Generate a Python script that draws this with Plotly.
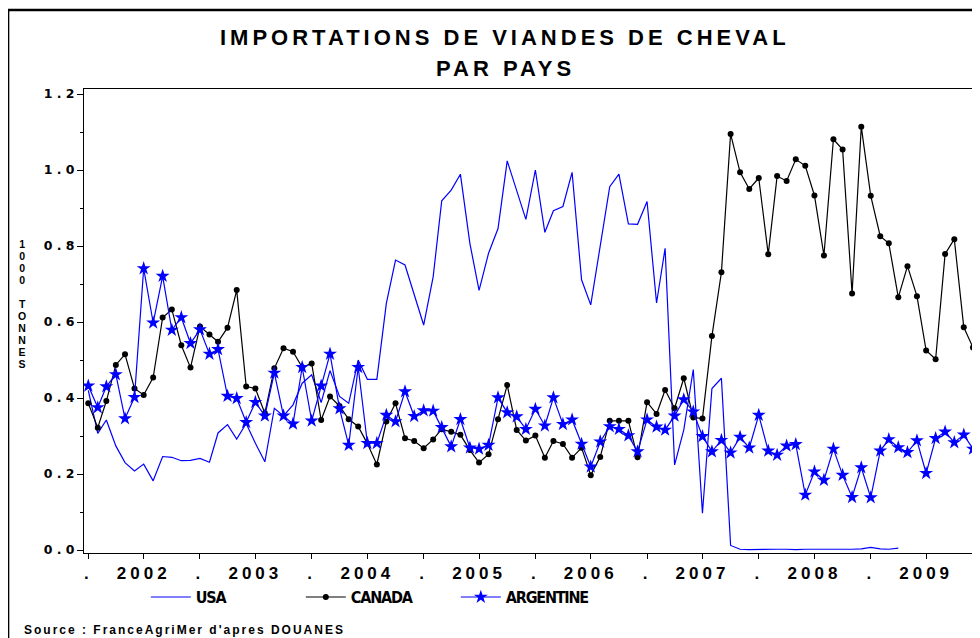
import plotly.graph_objects as go

# ---------------- data (monthly, starting January 2002) ----------------
years = [2002, 2003, 2004, 2005, 2006, 2007, 2008, 2009, 2010]
months = [f"{y}-{m:02d}-01" for y in years for m in range(1, 13)]

usa = [0.420, 0.307, 0.342, 0.274, 0.230, 0.208, 0.226, 0.182, 0.246, 0.244, 0.235, 0.236,
       0.241, 0.231, 0.308, 0.330, 0.292, 0.333, 0.281, 0.232, 0.373, 0.353, 0.382, 0.439,
       0.461, 0.388, 0.472, 0.404, 0.386, 0.500, 0.449, 0.449, 0.649, 0.763, 0.750, 0.672,
       0.592, 0.719, 0.919, 0.947, 0.989, 0.807, 0.683, 0.781, 0.846, 1.024, 0.943, 0.870,
       1.000, 0.836, 0.893, 0.904, 0.994, 0.711, 0.645, 0.798, 0.956, 0.989, 0.858, 0.857,
       0.917, 0.650, 0.794, 0.224, 0.316, 0.475, 0.097, 0.425, 0.452, 0.012, 0.002, 0.001,
       0.002, 0.002, 0.002, 0.002, 0.001, 0.002, 0.002, 0.002, 0.001, 0.002, 0.002, 0.003,
       0.007, 0.003, 0.002, 0.005]

canada = [0.386, 0.322, 0.392, 0.487, 0.515, 0.425, 0.408, 0.454, 0.612, 0.633, 0.539, 0.480,
          0.588, 0.567, 0.548, 0.585, 0.684, 0.430, 0.425, 0.360, 0.478, 0.531, 0.522, 0.481,
          0.491, 0.342, 0.404, 0.379, 0.344, 0.325, 0.280, 0.225, 0.338, 0.386, 0.294, 0.287,
          0.268, 0.291, 0.318, 0.311, 0.303, 0.263, 0.230, 0.252, 0.344, 0.434, 0.316, 0.288,
          0.301, 0.243, 0.287, 0.279, 0.243, 0.269, 0.197, 0.245, 0.340, 0.340, 0.340, 0.244,
          0.389, 0.358, 0.421, 0.373, 0.452, 0.349, 0.346, 0.563, 0.731, 1.095, 0.994, 0.950,
          0.979, 0.778, 0.984, 0.971, 1.028, 1.011, 0.933, 0.775, 1.081, 1.054, 0.675, 1.114,
          0.932, 0.826, 0.807, 0.665, 0.747, 0.668, 0.525, 0.502, 0.779, 0.818, 0.586, 0.533,
          0.600]

argentine = [0.432, 0.375, 0.430, 0.462, 0.346, 0.402, 0.741, 0.598, 0.721, 0.579, 0.612, 0.544,
             0.580, 0.516, 0.528, 0.405, 0.399, 0.336, 0.389, 0.353, 0.466, 0.353, 0.332, 0.481,
             0.340, 0.432, 0.516, 0.372, 0.276, 0.481, 0.281, 0.281, 0.355, 0.338, 0.417, 0.352,
             0.367, 0.366, 0.323, 0.272, 0.344, 0.269, 0.266, 0.276, 0.401, 0.362, 0.351, 0.318,
             0.371, 0.327, 0.401, 0.331, 0.343, 0.279, 0.219, 0.285, 0.325, 0.318, 0.301, 0.259,
             0.343, 0.324, 0.316, 0.353, 0.396, 0.364, 0.299, 0.259, 0.289, 0.256, 0.297, 0.269,
             0.355, 0.261, 0.250, 0.274, 0.278, 0.145, 0.206, 0.184, 0.266, 0.197, 0.139, 0.217,
             0.138, 0.261, 0.291, 0.270, 0.257, 0.288, 0.202, 0.294, 0.311, 0.283, 0.303, 0.266,
             0.245]

series_names = ["USA", "CANADA", "ARGENTINE"]

label_years = [2002, 2003, 2004, 2005, 2006, 2007, 2008, 2009]
x_tickvals = []
x_ticklabels = []
for y in label_years:
    x_tickvals += [f"{y}-01-01", f"{y}-07-01"]
    x_ticklabels += [".", str(y)]
x_gridvals = [f"{y}-01-01" for y in label_years[1:]]

y_tickvals = [0.0, 0.2, 0.4, 0.6, 0.8, 1.0, 1.2]
y_ticklabels = ["0 . 0", "0 . 2", "0 . 4", "0 . 6", "0 . 8", "1 . 0", "1 . 2"]
y_minorvals = [0.1, 0.3, 0.5, 0.7, 0.9, 1.1]
y_gridvals = [0.2, 0.4, 0.6, 0.8, 1.0]

title_lines = ["IMPORTATIONS DE VIANDES DE CHEVAL", "PAR PAYS"]
y_title = "1000 TONNES"
source_text = "Source : FranceAgriMer d'apres DOUANES"


def spaced(text, px):
    return f"<span style='letter-spacing:{px}px'>{text}</span>"


# ---------------- figure ----------------
BLUE = "#0000ff"
ARIAL_B = dict(family="Liberation Sans, Arial", weight="bold", color="black")
DEJAVU_B = dict(family="DejaVu Sans", weight="bold", color="black")
COND_B = dict(family="DejaVu Sans Condensed", weight="bold", color="black")

fig = go.Figure()
fig.add_trace(go.Scatter(x=months[:len(usa)], y=usa, name=spaced(series_names[0], -1.2), mode="lines",
                         line=dict(color=BLUE, width=1.2)))
fig.add_trace(go.Scatter(x=months[:len(canada)], y=canada, name=spaced(series_names[1], -1.2),
                         mode="lines+markers", line=dict(color="black", width=1.2),
                         marker=dict(symbol="circle", size=6, color="black")))
fig.add_trace(go.Scatter(x=months[:len(argentine)], y=argentine, name=spaced(series_names[2], -1.2),
                         mode="lines+markers", line=dict(color=BLUE, width=1.2),
                         marker=dict(symbol="star", size=10.5, color=BLUE, line=dict(width=0))))

x_range = ["2001-12-18", "2009-12-24"]
y_range = [-0.0079, 1.2132]
GRID = "#858585"

fig.update_layout(
    width=972, height=630,
    margin=dict(l=76, r=0, t=81, b=85),
    paper_bgcolor="white", plot_bgcolor="white",
    showlegend=True,
    xaxis=dict(type="date", range=x_range, tickmode="array", tickvals=x_tickvals,
               ticktext=[spaced(t, 4) for t in x_ticklabels],
               ticks="outside", ticklen=5, tickwidth=1, tickcolor="black",
               showgrid=False, zeroline=False, showline=True, linecolor="black", linewidth=1,
               mirror=True, tickfont=dict(size=17, **ARIAL_B), tickangle=0),
    xaxis2=dict(type="date", range=x_range, overlaying="x", anchor="y", tickmode="array",
                tickvals=x_gridvals, showticklabels=False, ticks="", showgrid=True,
                gridcolor=GRID, gridwidth=1.5, zeroline=False, showline=False),
    yaxis=dict(range=y_range, tickmode="array", tickvals=y_tickvals, ticktext=y_ticklabels,
               ticks="outside", ticklen=6, tickwidth=1, tickcolor="black",
               minor=dict(tickmode="array", tickvals=y_minorvals, ticks="outside", ticklen=3,
                          tickcolor="black", showgrid=False),
               showgrid=False, zeroline=False, showline=True, linecolor="black", linewidth=1,
               tickfont=dict(size=12.5, **DEJAVU_B)),
    yaxis2=dict(range=y_range, overlaying="y", anchor="x", tickmode="array", tickvals=y_gridvals,
                showticklabels=False, ticks="", showgrid=True, gridcolor=GRID, gridwidth=1.5,
                zeroline=False, showline=False),
    legend=dict(orientation="h", x=0.069, xanchor="left", y=-0.095, yanchor="middle",
                font=dict(size=16, **COND_B),
                entrywidth=100, entrywidthmode="pixels", itemwidth=40, bgcolor="rgba(0,0,0,0)"),
)

# outer frame
fig.add_shape(type="rect", xref="paper", yref="paper", x0=-0.0848, x1=1.1, y0=-0.4, y1=1.1703,
              line=dict(color="black", width=2.6), fillcolor="rgba(0,0,0,0)", layer="above")

# titles
fig.add_annotation(text=spaced(title_lines[0], 4), xref="paper", yref="paper", x=0.4699, y=1.112,
                   xanchor="center", yanchor="middle", showarrow=False, font=dict(size=22, **ARIAL_B))
fig.add_annotation(text=spaced(title_lines[1], 4), xref="paper", yref="paper", x=0.4699, y=1.0442,
                   xanchor="center", yanchor="middle", showarrow=False, font=dict(size=22, **ARIAL_B))

# stacked (upright) y-axis title: one character per line
stacked = "<br>".join(f"<span style='font-size:10.5px'>{c if c != ' ' else '&nbsp;'}</span>"
                      for c in y_title)
fig.add_annotation(text=stacked, xref="paper", yref="paper", x=-0.0692, y=(553 - 304) / 464,
                   xanchor="center", yanchor="middle", showarrow=False, align="center",
                   font=dict(size=9.2, **ARIAL_B))

# source
fig.add_annotation(text=spaced(source_text, 2), xref="paper", yref="paper", x=-0.0692, y=-0.1466,
                   xanchor="left", yanchor="top", showarrow=False, font=dict(size=12, **ARIAL_B))

fig.write_html("out.html")
